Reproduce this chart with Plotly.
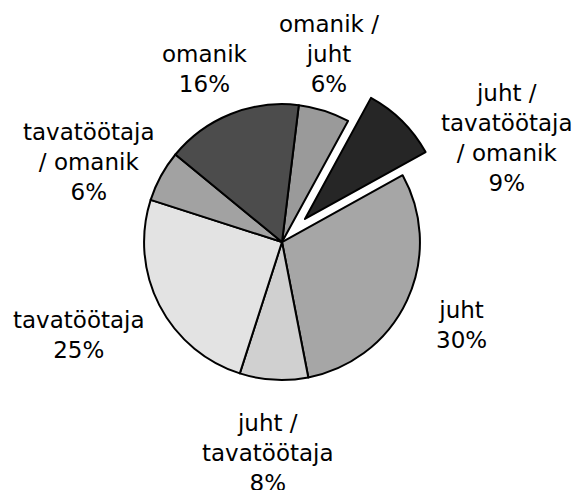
import plotly.graph_objects as go

# Slices listed clockwise, beginning just right of 12 o'clock
categories = [
    "omanik / juht",
    "juht / tavatöötaja / omanik",
    "juht",
    "juht / tavatöötaja",
    "tavatöötaja",
    "tavatöötaja / omanik",
    "omanik",
]
shares = [6, 9, 30, 8, 25, 6, 16]
# How each category name is broken over lines in its label
label_lines = [
    ["omanik /", "juht"],
    ["juht /", "tavatöötaja", "/ omanik"],
    ["juht"],
    ["juht /", "tavatöötaja"],
    ["tavatöötaja"],
    ["tavatöötaja", "/ omanik"],
    ["omanik"],
]

# Styling
pulls = [0, 0.236, 0, 0, 0, 0, 0]
colors = ["#9a9a9a", "#262626", "#a6a6a6", "#d0d0d0", "#e3e3e3", "#a2a2a2", "#4c4c4c"]
W, H = 579, 490
# Label block centres in pixels (x from left, y from top)
label_pos = [(329, 54), (507, 138), (462, 325), (268, 453), (79, 335), (89, 162), (205, 69)]

fig = go.Figure(
    go.Pie(
        labels=categories,
        values=shares,
        sort=False,
        direction="clockwise",
        rotation=7,
        pull=pulls,
        marker=dict(colors=colors, line=dict(color="#000000", width=2)),
        textinfo="none",
        showlegend=False,
        hoverinfo="label+value",
        domain=dict(x=[0.1926, 0.7815], y=[0.158, 0.854]),
    )
)

for lines, share, (px, py) in zip(label_lines, shares, label_pos):
    fig.add_annotation(
        text="<br>".join(lines + [f"{share}%"]),
        x=px / W,
        y=1 - py / H,
        xref="paper",
        yref="paper",
        xanchor="center",
        yanchor="middle",
        align="center",
        showarrow=False,
        font=dict(family="DejaVu Sans", size=23, color="#000000"),
    )

fig.update_layout(
    width=W,
    height=H,
    margin=dict(l=0, r=0, t=0, b=0),
    paper_bgcolor="#ffffff",
    plot_bgcolor="#ffffff",
)

fig.write_html("out.html")
